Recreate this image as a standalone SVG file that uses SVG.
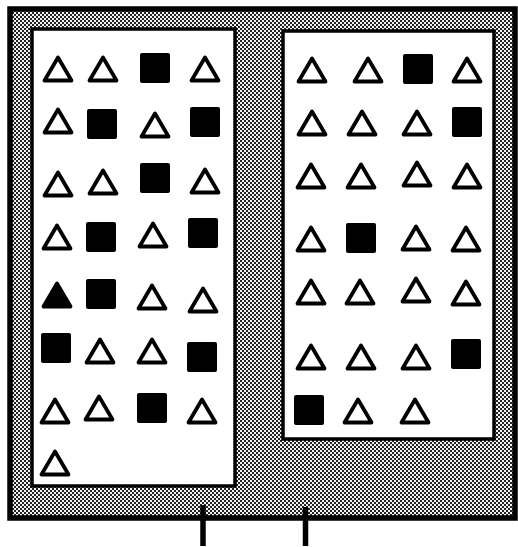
<svg xmlns="http://www.w3.org/2000/svg" width="518" height="547" viewBox="0 0 518 547">
<defs>
<pattern id="dither" width="4" height="4" patternUnits="userSpaceOnUse">
<rect width="4" height="4" fill="#f2f2f2"/>
<rect x="0" y="0" width="2" height="2" fill="#222"/>
<rect x="2" y="2" width="2" height="2" fill="#222"/>
</pattern>
<path id="tri" d="M-13.5,11.5 L13.5,11.5 L0,-11.5 Z"/>
<rect id="sq" x="-15" y="-15" width="30" height="30" rx="2"/>
</defs>
<style>
.t{fill:#fff;stroke:#000;stroke-width:3.8;stroke-linejoin:round}
.tf{fill:#000;stroke:#000;stroke-width:3.8;stroke-linejoin:round}
.s{fill:#000}
.panel{fill:#fff;stroke:#000;stroke-width:3.5}
.tick{stroke:#000;stroke-width:5.5}
</style>
<rect width="518" height="547" fill="#fff"/>
<g id="frame">
<rect x="10" y="9" width="505" height="509" fill="url(#dither)" stroke="#000" stroke-width="5.5"/>
</g>
<g id="left-panel">
<rect class="panel" x="32" y="29" width="203" height="457"/>
</g>
<g id="right-panel">
<rect class="panel" x="283" y="31" width="211" height="408"/>
</g>
<g id="left-shapes">
<use id="L1a" href="#tri" class="t" x="58" y="69"/>
<use id="L1b" href="#tri" class="t" x="103" y="69"/>
<use id="L1c" href="#sq" class="s" x="155" y="68"/>
<use id="L1d" href="#tri" class="t" x="205" y="69"/>
<use id="L2a" href="#tri" class="t" x="58" y="121"/>
<use id="L2b" href="#sq" class="s" x="102" y="124"/>
<use id="L2c" href="#tri" class="t" x="155" y="125"/>
<use id="L2d" href="#sq" class="s" x="205" y="122"/>
<use id="L3a" href="#tri" class="t" x="58" y="184"/>
<use id="L3b" href="#tri" class="t" x="103" y="182"/>
<use id="L3c" href="#sq" class="s" x="155" y="178"/>
<use id="L3d" href="#tri" class="t" x="205" y="181"/>
<use id="L4a" href="#tri" class="t" x="57" y="237"/>
<use id="L4b" href="#sq" class="s" x="101" y="237"/>
<use id="L4c" href="#tri" class="t" x="153" y="235"/>
<use id="L4d" href="#sq" class="s" x="203" y="233"/>
<use id="L5a" href="#tri" class="tf" x="57" y="295"/>
<use id="L5b" href="#sq" class="s" x="101" y="294"/>
<use id="L5c" href="#tri" class="t" x="152" y="297"/>
<use id="L5d" href="#tri" class="t" x="203" y="300"/>
<use id="L6a" href="#sq" class="s" x="56" y="348"/>
<use id="L6b" href="#tri" class="t" x="100" y="351"/>
<use id="L6c" href="#tri" class="t" x="152" y="351"/>
<use id="L6d" href="#sq" class="s" x="202" y="357"/>
<use id="L7a" href="#tri" class="t" x="55" y="411"/>
<use id="L7b" href="#tri" class="t" x="99" y="408"/>
<use id="L7c" href="#sq" class="s" x="152" y="408"/>
<use id="L7d" href="#tri" class="t" x="202" y="411"/>
<use id="L8a" href="#tri" class="t" x="55" y="463"/>
</g>
<g id="right-shapes">
<use id="R1a" href="#tri" class="t" x="312" y="70"/>
<use id="R1b" href="#tri" class="t" x="368" y="70"/>
<use id="R1c" href="#sq" class="s" x="418" y="69"/>
<use id="R1d" href="#tri" class="t" x="467" y="70"/>
<use id="R2a" href="#tri" class="t" x="312" y="123"/>
<use id="R2b" href="#tri" class="t" x="362" y="123"/>
<use id="R2c" href="#tri" class="t" x="417" y="123"/>
<use id="R2d" href="#sq" class="s" x="467" y="122"/>
<use id="R3a" href="#tri" class="t" x="311" y="176"/>
<use id="R3b" href="#tri" class="t" x="361" y="176"/>
<use id="R3c" href="#tri" class="t" x="417" y="174"/>
<use id="R3d" href="#tri" class="t" x="467" y="176"/>
<use id="R4a" href="#tri" class="t" x="311" y="239"/>
<use id="R4b" href="#sq" class="s" x="361" y="238"/>
<use id="R4c" href="#tri" class="t" x="416" y="238"/>
<use id="R4d" href="#tri" class="t" x="466" y="239"/>
<use id="R5a" href="#tri" class="t" x="311" y="292"/>
<use id="R5b" href="#tri" class="t" x="360" y="292"/>
<use id="R5c" href="#tri" class="t" x="416" y="290"/>
<use id="R5d" href="#tri" class="t" x="466" y="293"/>
<use id="R6a" href="#tri" class="t" x="311" y="357"/>
<use id="R6b" href="#tri" class="t" x="361" y="357"/>
<use id="R6c" href="#tri" class="t" x="416" y="357"/>
<use id="R6d" href="#sq" class="s" x="466" y="354"/>
<use id="R7a" href="#sq" class="s" x="309" y="410"/>
<use id="R7b" href="#tri" class="t" x="358" y="411"/>
<use id="R7c" href="#tri" class="t" x="415" y="411"/>
</g>
<g id="connectors">
<line class="tick" x1="203" y1="505" x2="203" y2="546"/>
<line class="tick" x1="305.5" y1="507" x2="305.5" y2="546"/>
</g>
</svg>
